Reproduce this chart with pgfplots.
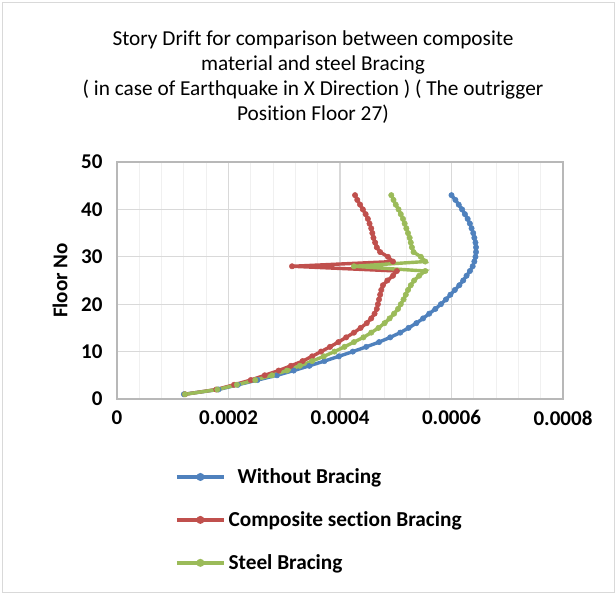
\documentclass[border=0pt]{standalone}
\usepackage{fontspec}
\setmainfont{Carlito}[Ligatures=NoCommon]
\usepackage{pgfplots}
\pgfplotsset{compat=1.18}
\usepackage{pgfplotstable}
\definecolor{xlblue}{HTML}{4F81BD}
\definecolor{xlred}{HTML}{C0504D}
\definecolor{xlgreen}{HTML}{9BBB59}
\definecolor{gridmaj}{HTML}{D9D9D9}
\definecolor{gridmin}{HTML}{F0F0F0}

% drift, floor
\pgfplotstableread{
d f
0.000120 1
0.000182 2
0.000217 3
0.000252 4
0.000287 5
0.000317 6
0.000345 7
0.000372 8
0.000398 9
0.000423 10
0.000447 11
0.000470 12
0.000490 13
0.000508 14
0.000523 15
0.000537 16
0.000549 17
0.000560 18
0.000571 19
0.000581 20
0.000590 21
0.000598 22
0.000606 23
0.000614 24
0.000621 25
0.000627 26
0.000633 27
0.000638 28
0.000641 29
0.000643 30
0.000644 31
0.000644 32
0.000643 33
0.000641 34
0.000639 35
0.000636 36
0.000633 37
0.000629 38
0.000624 39
0.000619 40
0.000613 41
0.000607 42
0.000600 43
}\nobracing

\pgfplotstableread{
d f
0.000122 1
0.000178 2
0.000210 3
0.000240 4
0.000265 5
0.000290 6
0.000312 7
0.000333 8
0.000350 9
0.000366 10
0.000382 11
0.000397 12
0.000411 13
0.000425 14
0.000437 15
0.000448 16
0.000456 17
0.000462 18
0.000466 19
0.000468 20
0.000470 21
0.000472 22
0.000474 23
0.000477 24
0.000485 25
0.000495 26
0.000502 27
0.000314 28
0.000495 29
0.000486 30
0.000472 31
0.000466 32
0.000463 33
0.000460 34
0.000458 35
0.000456 36
0.000453 37
0.000450 38
0.000446 39
0.000441 40
0.000436 41
0.000431 42
0.000427 43
}\composite

\pgfplotstableread{
d f
0.000122 1
0.000180 2
0.000215 3
0.000248 4
0.000278 5
0.000305 6
0.000328 7
0.000350 8
0.000371 9
0.000390 10
0.000408 11
0.000425 12
0.000442 13
0.000456 14
0.000469 15
0.000480 16
0.000489 17
0.000497 18
0.000504 19
0.000509 20
0.000514 21
0.000518 22
0.000522 23
0.000527 24
0.000533 25
0.000542 26
0.000553 27
0.000425 28
0.000553 29
0.000545 30
0.000532 31
0.000529 32
0.000527 33
0.000525 34
0.000522 35
0.000519 36
0.000516 37
0.000513 38
0.000509 39
0.000505 40
0.000500 41
0.000496 42
0.000492 43
}\steel

\begin{document}
\begin{tikzpicture}
\path[use as bounding box] (0pt,0pt) rectangle (616pt,594pt);
\draw[gridmaj, line width=1pt] (2pt,1.5pt) rectangle (614pt,591pt);

\node[align=center, font=\fontsize{21.3}{25}\selectfont] at (313pt,517pt)
  {Story Drift for comparison between composite\\
   material and steel Bracing\\
   ( in case of Earthquake in X Direction ) ( The outrigger\\
   Position Floor 27)};

% x axis in units of 1e-4
\begin{axis}[
  at={(117pt,195pt)}, anchor=south west,
  scale only axis, width=446pt, height=237pt,
  xmin=0, xmax=8, ymin=0, ymax=50,
  xtick={0,2,4,6,8},
  xticklabels={0,0.0002,0.0004,0.0006,0.0008},
  ytick={0,10,20,30,40,50},
  yticklabels={0,10,20,30,40,50},
  minor x tick num=4,
  xmajorgrids, ymajorgrids, xminorgrids,
  major grid style={gridmaj, line width=1.2pt},
  minor grid style={gridmin, line width=1pt},
  axis line style={gridmaj!85!black, line width=1.2pt},
  major tick length=0pt, minor tick length=0pt,
  ticklabel style={font=\bfseries\fontsize{21}{24}\selectfont},
  xticklabel style={yshift=-8pt},
  yticklabel style={xshift=-11pt},
  ylabel={Floor No},
  every axis y label/.style={at={(-57pt,118.5pt)}, rotate=90, anchor=center,
    font=\bfseries\fontsize{21}{24}\selectfont},
  legend style={at={(0.13,-0.285)}, anchor=north west, draw=none, fill=none,
    font=\bfseries\fontsize{21.3}{24}\selectfont, row sep=22.5pt,
    inner sep=0pt},
  legend cell align=left,
  legend image code/.code={
    \draw[#1, mark=none] (0pt,0pt) -- (47pt,0pt);
    \fill[#1] (23.5pt,0pt) circle (2.2pt);
  },
  every axis plot/.append style={line width=3.4pt, mark=*, mark size=2.7pt},
  clip=false,
]
\addplot[xlblue, mark options={fill=xlblue, line width=0.5pt}] table[x expr=\thisrow{d}*10000, y=f] {\nobracing};
\addlegendentry{\hspace{10pt}Without Bracing}
\addplot[xlred, mark options={fill=xlred, line width=0.5pt}] table[x expr=\thisrow{d}*10000, y=f] {\composite};
\addlegendentry{\hspace{1pt}Composite section Bracing}
\addplot[xlgreen, mark options={fill=xlgreen, line width=0.5pt}] table[x expr=\thisrow{d}*10000, y=f] {\steel};
\addlegendentry{\hspace{1pt}Steel Bracing}
\end{axis}
\end{tikzpicture}
\end{document}
